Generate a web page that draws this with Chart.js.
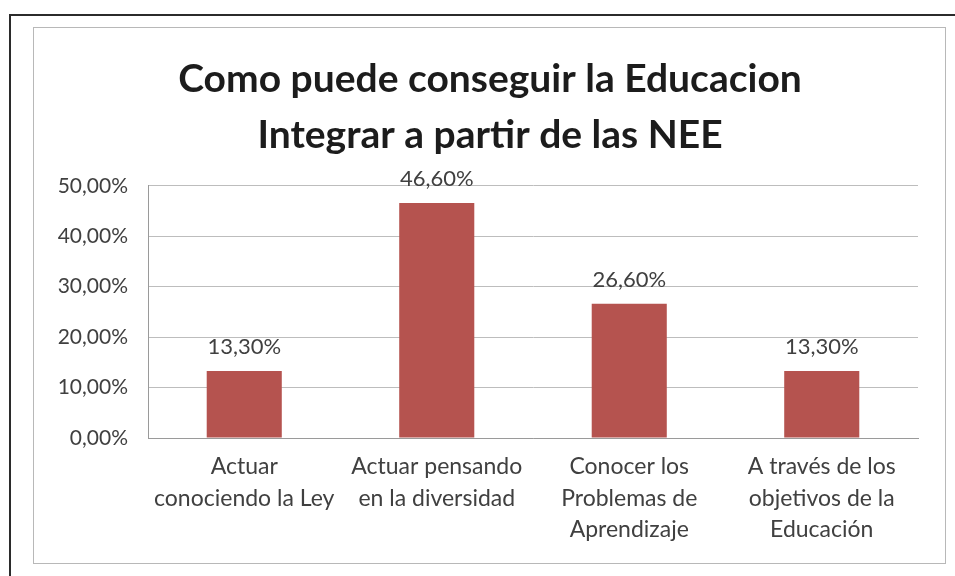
<!DOCTYPE html>
<html>
<head>
<meta charset="utf-8">
<script src="https://cdn.jsdelivr.net/npm/chart.js@4"></script>
<style>
  html, body { margin: 0; padding: 0; background: #fff; overflow: hidden; }
  #wrap { position: relative; width: 955px; height: 576px; overflow: hidden; }
  #outer { position: absolute; left: 9px; top: 14px; width: 946px; height: 562px;
           border-top: 2px solid #2b2b2b; border-left: 2px solid #2b2b2b; }
  #inner { position: absolute; left: 33px; top: 27px; width: 911px; height: 535px;
           border: 1px solid #b8b8b8; }
  canvas { position: absolute; left: 0; top: 0; }
</style>
</head>
<body>
<div id="wrap">
  <div id="outer"></div>
  <div id="inner"></div>
  <canvas id="grafico" width="955" height="576"></canvas>
</div>
<script>
// Datos
const categorias = [
    ['Actuar', 'conociendo la Ley'],
    ['Actuar pensando', 'en la diversidad'],
    ['Conocer los', 'Problemas de', 'Aprendizaje'],
    ['A través de los', 'objetivos de la', 'Educación']
];
const porcentajes = [0.133, 0.466, 0.266, 0.133];
const titulo = ['Como puede conseguir la Educacion', 'Integrar a partir de las NEE'];

const formatoPct = v => (v * 100).toFixed(2).replace('.', ',') + '%';

// etiquetas encima de las barras
const etiquetasBarras = {
    id: 'etiquetasBarras',
    afterLayout(chart) {
        // el titulo en el original esta un poco a la derecha
        chart.titleBlock.left = 62;
    },
    afterDatasetsDraw(chart) {
        const ctx = chart.ctx;
        const meta = chart.getDatasetMeta(0);
        ctx.save();
        ctx.font = '22px Lato';
        ctx.fillStyle = '#404040';
        ctx.textAlign = 'center';
        ctx.textBaseline = 'middle';
        meta.data.forEach((bar, i) => {
            ctx.fillText(formatoPct(porcentajes[i]), bar.x, bar.y - 24);
        });
        ctx.restore();
    }
};

Chart.defaults.font.family = 'Lato';
Chart.defaults.color = '#404040';

new Chart(document.getElementById('grafico'), {
    type: 'bar',
    data: {
        labels: categorias,
        datasets: [{
            data: porcentajes,
            backgroundColor: '#b5534f',
            barPercentage: 0.39,
            categoryPercentage: 1
        }]
    },
    options: {
        responsive: false,
        animation: false,
        layout: { padding: { top: 52, left: 40, right: 37, bottom: 0 } },
        plugins: {
            legend: { display: false },
            tooltip: { enabled: false },
            title: {
                display: true,
                text: titulo,
                color: '#1c1c1c',
                font: { size: 39, weight: 'bold', lineHeight: 1.42 },
                padding: { top: 0, bottom: 23 }
            }
        },
        scales: {
            x: {
                grid: { display: false, drawTicks: false },
                border: { color: '#9a9a9a' },
                ticks: {
                    font: { size: 23, lineHeight: 1.37 },
                    padding: 13,
                    maxRotation: 0,
                    autoSkip: false
                },
                afterFit: s => { s.height = 138; }
            },
            y: {
                min: 0,
                max: 0.5,
                grid: { color: '#bdbdbd', drawTicks: false },
                border: { color: '#9a9a9a' },
                ticks: {
                    stepSize: 0.1,
                    font: { size: 21 },
                    padding: 20,
                    callback: v => formatoPct(v)
                },
                afterFit: s => { s.width = 108; }
            }
        }
    },
    plugins: [etiquetasBarras]
});
</script>
</body>
</html>
